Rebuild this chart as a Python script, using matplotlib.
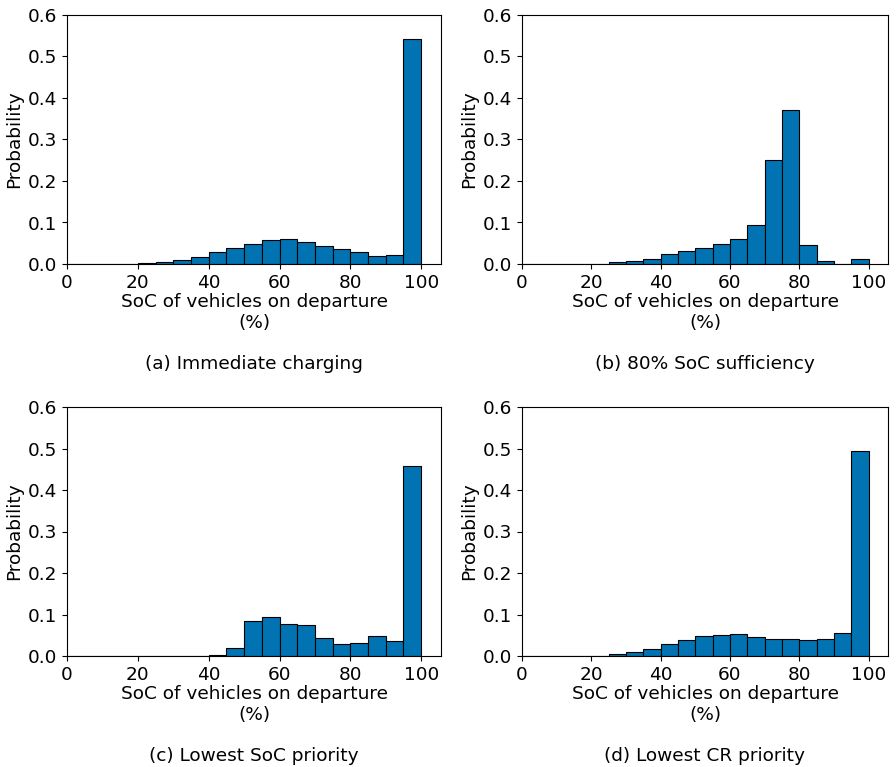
import numpy as np
from matplotlib import pyplot as plt

# Bin edges (5% SoC bins from 0 to 100)
bin_left = np.arange(0, 100, 5)

# Probabilities per bin
immediate = [0, 0, 0, 0, 0.002, 0.004, 0.009, 0.016, 0.029, 0.039,
             0.049, 0.058, 0.061, 0.053, 0.043, 0.036, 0.028, 0.019, 0.021, 0.542]
sufficiency = [0, 0, 0, 0, 0, 0.004, 0.008, 0.013, 0.024, 0.032,
               0.038, 0.047, 0.060, 0.095, 0.251, 0.372, 0.045, 0.008, 0.001, 0.013]
lowest_soc = [0, 0, 0, 0, 0, 0, 0, 0, 0.003, 0.020,
              0.085, 0.095, 0.077, 0.075, 0.044, 0.030, 0.031, 0.049, 0.037, 0.458]
lowest_cr = [0, 0, 0, 0, 0.001, 0.005, 0.009, 0.016, 0.029, 0.039,
             0.049, 0.051, 0.052, 0.046, 0.042, 0.040, 0.038, 0.040, 0.056, 0.493]

captions = ['(a) Immediate charging', '(b) 80% SoC sufficiency',
            '(c) Lowest SoC priority', '(d) Lowest CR priority']

plt.rcParams['font.family'] = 'DejaVu Sans'
plt.rcParams['font.size'] = 13.3

fig = plt.figure(figsize=(8.96, 7.67), dpi=100)
W, H = 896, 767
boxes = [(67, 15, 441, 264), (522, 15, 888, 264),
         (67, 407, 441, 656), (522, 407, 888, 656)]
series = [immediate, sufficiency, lowest_soc, lowest_cr]

for (l, t, r, b), values, caption in zip(boxes, series, captions):
    ax = fig.add_axes([l / W, 1 - b / H, (r - l) / W, (b - t) / H])
    ax.bar(bin_left, values, width=5, align='edge', color='#0173B2',
           edgecolor='black', linewidth=0.8)
    ax.set_xlim(0, 105.6)
    ax.set_ylim(0, 0.6)
    ax.set_xticks([0, 20, 40, 60, 80, 100])
    ax.set_yticks([0.0, 0.1, 0.2, 0.3, 0.4, 0.5, 0.6])
    ax.set_ylabel('Probability', labelpad=3)
    ax.set_xlabel('SoC of vehicles on departure\n(%)', labelpad=1)
    ax.text(0.5, -0.40, caption, transform=ax.transAxes,
            ha='center', va='center')

fig.savefig('out.png', dpi=100)
